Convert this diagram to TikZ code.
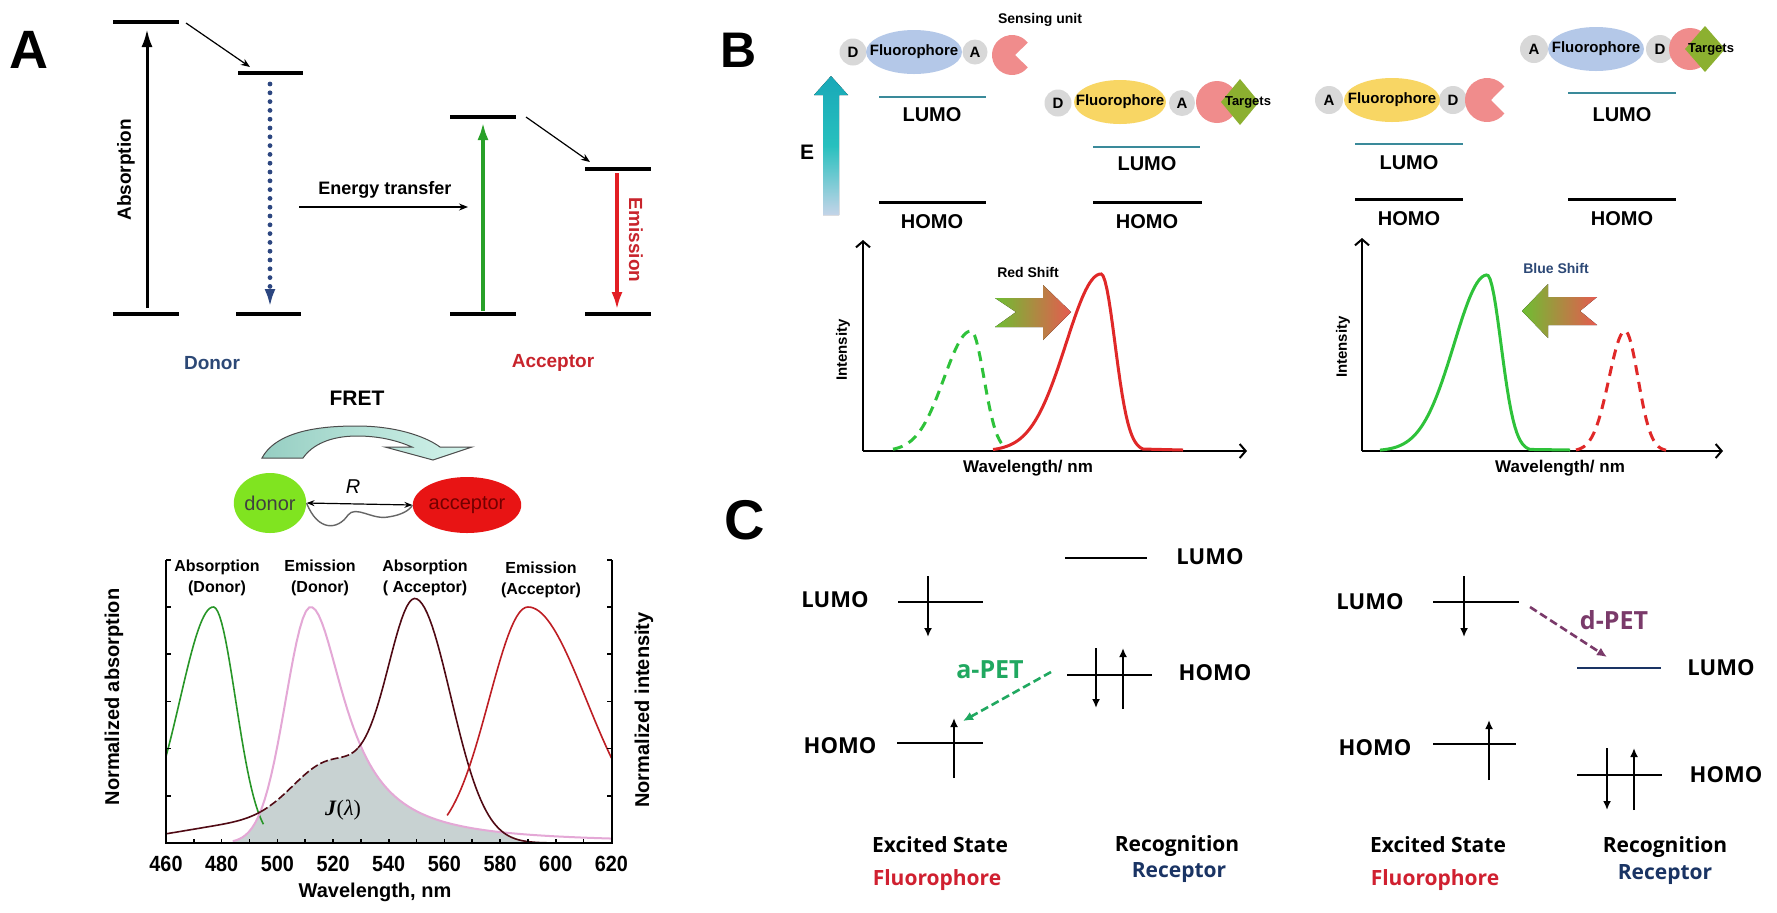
\documentclass[tikz,border=0pt]{standalone}
\usepackage{fontspec}
\setmainfont{Liberation Sans}
\newfontfamily\serifface{Liberation Serif}
\newfontfamily\pcface{Open Sans}
\usetikzlibrary{arrows.meta,positioning,shapes.geometric}
\newcommand\fsz[1]{\fontsize{#1}{#1}\selectfont}
\definecolor{donorblue}{RGB}{44,72,118}
\definecolor{accred}{RGB}{200,36,44}
\definecolor{navydot}{RGB}{44,70,128}
\definecolor{arrgreen}{RGB}{40,160,40}
\definecolor{arrred}{RGB}{226,30,36}
\definecolor{donorgreen}{RGB}{128,228,32}
\definecolor{acceptorred}{RGB}{232,20,20}
\definecolor{fretteal}{RGB}{150,206,194}
\definecolor{fretlight}{RGB}{212,244,236}
\definecolor{absgreen}{RGB}{40,150,40}
\definecolor{empink}{RGB}{228,168,214}
\definecolor{absmaroon}{RGB}{80,10,20}
\definecolor{emred}{RGB}{190,30,36}
\definecolor{jfill}{RGB}{200,210,210}
\definecolor{lumoteal}{RGB}{58,138,154}
\definecolor{dotgray}{RGB}{216,216,216}
\definecolor{fluoblue}{RGB}{180,200,232}
\definecolor{fluoyellow}{RGB}{248,214,100}
\definecolor{sensepink}{RGB}{240,140,140}
\definecolor{targetgreen}{RGB}{140,176,48}
\definecolor{curvegreen}{RGB}{46,194,58}
\definecolor{curvered}{RGB}{224,40,40}
\definecolor{etop}{RGB}{24,168,184}
\definecolor{emid}{RGB}{40,192,190}
\definecolor{ebot}{RGB}{196,212,232}
\definecolor{shiftgreen}{RGB}{110,190,50}
\definecolor{shiftred}{RGB}{230,90,80}
\definecolor{fluored}{RGB}{208,32,48}
\definecolor{recnavy}{RGB}{26,52,100}
\definecolor{apetgreen}{RGB}{32,168,96}
\definecolor{dpetpurple}{RGB}{122,58,106}

\begin{document}
\begin{tikzpicture}[x=0.5pt,y=-0.5pt,
    declare function={
      lamx(\l)=166+(\l-460)*2.784;
      ivy(\v)=843-236*\v;
      ag(\l,\m,\sl,\sr)=exp(-min(((\l-\m)/((\l<\m)*\sl+(\l>=\m)*\sr))^2/2,12));
      absD(\l)=ag(\l,477,12,8);
      emD(\l)=(\l<512)*ag(\l,512,9,9)+(\l>=512)/(1+((\l-512)/15)^2);
      absA(\l)=ag(\l,550,10.5,12.5)+0.3*ag(\l,520,14,14)+0.08*ag(\l,490,25,25);
      emA(\l)=ag(\l,590,14,21);
    },
    bf/.style={font={\fsz{#1}\bfseries}},
    pc/.style={font={\pcface\fsz{#1}\bfseries}},
    peak/.style={font={\fontsize{8}{10.5}\selectfont\bfseries},align=center},
    level/.style={line width=1.6pt},
    bigtip/.style={-{Latex[length=9pt,width=5.5pt]}},
    smalltip/.style={-{Stealth[length=4.5pt,width=3.5pt]}},
    axtip/.style={-{Straight Barb[length=3pt,width=7pt]}},
    spin/.style={line width=1.4pt,-{Latex[length=4.5pt,width=4pt]}},
    orb/.style={line width=1.4pt},
    molcirc/.style={fill=dotgray},
  ]
  \useasboundingbox (0,0) rectangle (1777,912);
  \fill[white] (0,0) rectangle (1777,912);

  % A: Jablonski levels
  \node[bf=27] (pA) at (29,50) {A};
  \draw[level] (113,22) -- (179,22);
  \draw[level] (238,73) -- (303,73);
  \draw[level] (113,314) -- (179,314);
  \draw[level] (236,314) -- (301,314);
  \draw[level] (450,117) -- (516,117);
  \draw[level] (585,169) -- (651,169);
  \draw[level] (450,314) -- (516,314);
  \draw[level] (585,314) -- (651,314);
  \coordinate (absB) at (147,308);
  \coordinate (absT) at (147,29);
  \draw[line width=1.5pt,bigtip] (absB) -- (absT);
  \node[bf=9.5,rotate=90] (absorb) at (126,170) {Absorption};
  \coordinate (relD1) at (186,23);
  \coordinate (relD2) at (250,67);
  \draw[line width=0.6pt,smalltip] (relD1) -- (relD2);
  \coordinate (dotT) at (270,84);
  \coordinate (dotB) at (270,307);
  \draw[navydot,line width=2.4pt,line cap=round,dash pattern=on 0pt off 4.4pt,bigtip] (dotT) -- (dotB);
  \node[bf=9] (etxt) at (385,190) {Energy transfer};
  \coordinate (etL) at (299,207);
  \coordinate (etR) at (468,207);
  \draw[line width=0.6pt,smalltip] (etL) -- (etR);
  \coordinate (gB) at (483,311);
  \coordinate (gT) at (483,122);
  \draw[arrgreen,line width=1.8pt,bigtip] (gB) -- (gT);
  \coordinate (relA1) at (526,117);
  \coordinate (relA2) at (590,162);
  \draw[line width=0.6pt,smalltip] (relA1) -- (relA2);
  \coordinate (rT) at (617,173);
  \coordinate (rB) at (617,310);
  \draw[arrred,line width=1.8pt,bigtip] (rT) -- (rB);
  \node[bf=9.5,rotate=-90,text=accred] (emtxt) at (636,240) {Emission};
  \node[bf=9.5,text=donorblue] (donlbl) at (212,363) {Donor};
  \node[bf=9.5,text=accred] (acclbl) at (553,363) {Acceptor};

  % A: FRET sketch
  \node[bf=10.5] (fret) at (357,398) {FRET};
  \draw[black!70,line width=0.5pt,left color=fretteal,right color=fretlight]
    (262,458) .. controls (278,428) and (330,426) .. (357,426)
    .. controls (395,426) and (425,436) .. (440,447) -- (472,447) -- (433,460) -- (385,447) -- (412,447)
    .. controls (396,440) and (378,436) .. (357,436)
    .. controls (330,436) and (312,445) .. (303,458) -- cycle;
  \node[ellipse,fill=donorgreen,minimum width=36pt,minimum height=30pt,inner sep=0pt,font=\fsz{10},text=black!75] (donor) at (270,503) {donor};
  \node[ellipse,fill=acceptorred,minimum width=53pt,minimum height=28pt,inner sep=0pt,font=\fsz{10},text=red!45!black] (acceptor) at (467,505) {acceptor};
  \draw[line width=0.6pt,{Stealth[length=4pt,width=3pt]}-{Stealth[length=4pt,width=3pt]}] (donor.east) -- (acceptor.west);
  \node[font=\fsz{10}\itshape] (rlbl) at (353,487) {R};
  \draw[black!60,line width=0.7pt] (donor.east) .. controls (318,532) and (338,530) .. (348,515)
    .. controls (356,505) and (372,520) .. (388,517) .. controls (402,515) and (410,510) .. (acceptor.west);

  % A: spectral overlap plot
  \fill[jfill,domain=484:606,samples=90] ({lamx(484)},843) -- plot ({lamx(\x)},{ivy(min(emD(\x),absA(\x)))}) -- ({lamx(606)},843) -- cycle;
  \draw[absgreen,line width=0.8pt,domain=460:495,samples=50] plot ({lamx(\x)},{ivy(absD(\x))});
  \draw[empink,line width=1pt,domain=484:620,samples=120] plot ({lamx(\x)},{ivy(emD(\x))});
  \draw[absmaroon,line width=0.8pt,domain=460:494,samples=40] plot ({lamx(\x)},{ivy(absA(\x))});
  \draw[absmaroon,line width=0.8pt,dash pattern=on 4pt off 1.5pt,domain=494:529,samples=40] plot ({lamx(\x)},{ivy(absA(\x))});
  \draw[absmaroon,line width=0.8pt,domain=529:620,samples=100] plot ({lamx(\x)},{ivy(absA(\x))});
  \draw[emred,line width=0.8pt,domain=561:620,samples=60] plot ({lamx(\x)},{ivy(emA(\x))});
  \draw[line width=1pt] (166,560) -- (166,843) -- (611.5,843) -- (611.5,560);
  \foreach \t in {460,470,...,620} \draw[line width=0.8pt] ({lamx(\t)},843) -- ({lamx(\t)},839);
  \foreach \v in {0,0.2,0.4,0.6,0.8,1.0,1.2} {
    \draw[line width=0.8pt] (166,{ivy(\v)}) -- (171,{ivy(\v)});
    \draw[line width=0.8pt] (611.5,{ivy(\v)}) -- (606.5,{ivy(\v)});
  }
  \foreach \t in {460,480,...,620} \node[bf=11,xscale=0.9] (tk\t) at ({lamx(\t)},864) {\t};
  \node[bf=10] (wlA) at (375,892) {Wavelength, nm};
  \node[bf=10,rotate=90] (nabs) at (114,697) {Normalized absorption};
  \node[bf=10,rotate=90] (nint) at (644,710) {Normalized intensity};
  \node[peak] (l1) at (217,578) {Absorption\\(Donor)};
  \node[peak] (l2) at (320,578) {Emission\\(Donor)};
  \node[peak] (l3) at (425,578) {Absorption\\( Acceptor)};
  \node[peak] (l4) at (541,580) {Emission\\(Acceptor)};
  \node[font=\serifface\fsz{11}] (jl) at (343,810) {\textbf{\textit{J}}(\textit{λ})};

  % B: ICT molecules and levels
  \node[bf=25] (pB) at (739,50) {B};
  \fill[top color=etop,bottom color=ebot,middle color=emid]
    (823,215) -- (823,95) -- (814,95) -- (831,76) -- (848,95) -- (839,95) -- (839,215) -- cycle;
  \node[bf=10.5] (elbl) at (807,152) {E};
  % donor-fluorophore-acceptor, free
  \fill[molcirc] (853,52) circle (13.5);
  \fill[molcirc] (975,52) circle (12.5);
  \fill[fluoblue] (914,52) ellipse [x radius=48, y radius=22];
  \fill[sensepink] (1012,55) ++(38:20) arc (38:322:20) -- (1015,55) -- cycle;
  \node[bf=7.5] (m1d) at (853,52) {D};
  \node[bf=7.5] (m1f) at (914,52) {Fluorophore};
  \node[bf=7.5] (m1a) at (975,52) {A};
  \node[bf=7] (sense) at (1040,20) {Sensing unit};
  % bound to target
  \fill[molcirc] (1058,103) circle (13.5);
  \fill[molcirc] (1182,103) circle (13);
  \fill[fluoyellow] (1120,102) ellipse [x radius=46, y radius=22];
  \fill[sensepink] (1217,102) circle (21);
  \fill[targetgreen] (1240,79) -- (1259,102) -- (1240,125) -- (1221,102) -- cycle;
  \node[bf=7.5] (m2d) at (1058,103) {D};
  \node[bf=7.5] (m2f) at (1120,102) {Fluorophore};
  \node[bf=7.5] (m2a) at (1182,103) {A};
  \node[bf=6.5] (m2t) at (1248,102) {Targets};
  % reversed, free
  \fill[molcirc] (1329,100) circle (14);
  \fill[molcirc] (1453,100) circle (14);
  \fill[fluoyellow] (1392,100) ellipse [x radius=48, y radius=22];
  \fill[sensepink] (1487,100) ++(38:22) arc (38:322:22) -- (1491,100) -- cycle;
  \node[bf=7.5] (m3a) at (1329,100) {A};
  \node[bf=7.5] (m3f) at (1392,100) {Fluorophore};
  \node[bf=7.5] (m3d) at (1453,100) {D};
  % reversed, bound
  \fill[molcirc] (1534,49) circle (14);
  \fill[molcirc] (1660,49) circle (14);
  \fill[fluoblue] (1596,49) ellipse [x radius=48, y radius=22];
  \fill[sensepink] (1690,49) circle (21);
  \fill[targetgreen] (1705,26) -- (1725,49) -- (1705,72) -- (1685,49) -- cycle;
  \node[bf=7.5] (m4a) at (1534,49) {A};
  \node[bf=7.5] (m4f) at (1596,49) {Fluorophore};
  \node[bf=7.5] (m4d) at (1660,49) {D};
  \node[bf=6.5] (m4t) at (1711,49) {Targets};
  % frontier orbitals
  \draw[lumoteal,line width=1.3pt] (879,97) -- (986,97);
  \draw[lumoteal,line width=1.3pt] (1093,147) -- (1200,147);
  \draw[lumoteal,line width=1.3pt] (1355,144) -- (1463,144);
  \draw[lumoteal,line width=1.3pt] (1568,93) -- (1676,93);
  \draw[line width=1.5pt] (879,202) -- (986,202);
  \draw[line width=1.5pt] (1093,202) -- (1202,202);
  \draw[line width=1.5pt] (1355,199) -- (1463,199);
  \draw[line width=1.5pt] (1568,199) -- (1676,199);
  \node[bf=10] (lu1) at (932,115) {LUMO};
  \node[bf=10] (ho1) at (932,222) {HOMO};
  \node[bf=10] (lu2) at (1147,164) {LUMO};
  \node[bf=10] (ho2) at (1147,222) {HOMO};
  \node[bf=10] (lu3) at (1409,163) {LUMO};
  \node[bf=10] (ho3) at (1409,219) {HOMO};
  \node[bf=10] (lu4) at (1622,115) {LUMO};
  \node[bf=10] (ho4) at (1622,219) {HOMO};

  % B: spectra
  \coordinate (o1) at (863,451);
  \draw[line width=1pt,axtip] (o1) -- (863,240);
  \draw[line width=1pt,axtip] (o1) -- (1247,451);
  \node[bf=7.5,rotate=90] (int1) at (843,350) {Intensity};
  \node[bf=8.5] (wl1) at (1028,468) {Wavelength/ nm};
  \draw[curvegreen,line width=1.5pt,dash pattern=on 5pt off 3.5pt,domain=893:1005,samples=60] plot (\x,{451-120*ag(\x,971,27,13)});
  \draw[curvered,line width=1.5pt,domain=993:1143,samples=80] plot (\x,{451-177*ag(\x,1101,35,14)}) -- (1183,450);
  \fill[left color=shiftgreen,right color=shiftred]
    (995,298) -- (1043,298) -- (1043,285) -- (1071,312) -- (1043,340) -- (1043,327) -- (995,327) -- (1016,312) -- cycle;
  \node[bf=7] (rshift) at (1028,272) {Red Shift};
  \coordinate (o2) at (1362,451);
  \draw[line width=1pt,axtip] (o2) -- (1362,238);
  \draw[line width=1pt,axtip] (o2) -- (1723,451);
  \node[bf=7.5,rotate=90] (int2) at (1343,347) {Intensity};
  \node[bf=8.5] (wl2) at (1560,468) {Wavelength/ nm};
  \draw[curvegreen,line width=1.5pt,domain=1380:1530,samples=80] plot (\x,{451-176*ag(\x,1487,33,14)}) -- (1570,450);
  \draw[curvered,line width=1.5pt,dash pattern=on 5pt off 3.5pt,domain=1576:1666,samples=60] plot (\x,{451-120*ag(\x,1625,16,13)});
  \fill[left color=shiftgreen,right color=shiftred]
    (1597,297) -- (1548,297) -- (1548,284) -- (1522,311) -- (1548,338) -- (1548,325) -- (1597,325) -- (1580,311) -- cycle;
  \node[bf=7,text=donorblue] (bshift) at (1556,268) {Blue Shift};

  % C: PET
  \node[bf=28] (pC) at (745,520) {C};
  \node[pc=11] (cl1) at (835,600) {LUMO};
  \node[pc=11] (ch1) at (840,746) {HOMO};
  \draw[orb] (898,602) -- (983,602);
  \draw[spin] (928,576) -- (928,637);
  \draw[orb] (897,743) -- (983,743);
  \draw[spin] (954,778) -- (954,718);
  \draw[orb] (1065,558) -- (1147,558);
  \node[pc=11] (rl1) at (1210,557) {LUMO};
  \draw[orb] (1067,675) -- (1152,675);
  \draw[spin] (1096,648) -- (1096,708);
  \draw[spin] (1123,709) -- (1123,648);
  \node[pc=11] (rh1) at (1215,673) {HOMO};
  \coordinate (ap1) at (1051,672);
  \coordinate (ap2) at (963,721);
  \draw[apetgreen,line width=1.3pt,dash pattern=on 4pt off 2pt,-{Latex[length=5pt,width=4.5pt]}] (ap1) -- (ap2);
  \node[pc=12.5,text=apetgreen] (apet) at (990,670) {a-PET};
  \node[pc=10.5] (ex1) at (940,845) {Excited State};
  \node[pc=10.5,text=fluored] (fl1) at (937,880) {Fluorophore};
  \node[pc=10.5] (rc1) at (1177,846) {Recognition};
  \node[pc=10.5,text=recnavy] (re1) at (1179,873) {Receptor};

  \node[pc=11] (cl2) at (1370,602) {LUMO};
  \node[pc=11] (ch2) at (1375,748) {HOMO};
  \draw[orb] (1433,602) -- (1519,602);
  \draw[spin] (1464,576) -- (1464,637);
  \draw[orb] (1433,744) -- (1516,744);
  \draw[spin] (1489,780) -- (1489,720);
  \draw[recnavy,line width=1.2pt] (1577,668) -- (1661,668);
  \node[pc=11] (rl2) at (1721,668) {LUMO};
  \draw[orb] (1577,775) -- (1662,775);
  \draw[spin] (1607,748) -- (1607,810);
  \draw[spin] (1634,810) -- (1634,748);
  \node[pc=11] (rh2) at (1726,775) {HOMO};
  \coordinate (dp1) at (1530,607);
  \coordinate (dp2) at (1607,657);
  \draw[dpetpurple,line width=1.3pt,dash pattern=on 4pt off 2pt,-{Latex[length=5pt,width=4.5pt]}] (dp1) -- (dp2);
  \node[pc=12.5,text=dpetpurple] (dpet) at (1614,620) {d-PET};
  \node[pc=10.5] (ex2) at (1438,845) {Excited State};
  \node[pc=10.5,text=fluored] (fl2) at (1435,880) {Fluorophore};
  \node[pc=10.5] (rc2) at (1665,847) {Recognition};
  \node[pc=10.5,text=recnavy] (re2) at (1665,875) {Receptor};
\end{tikzpicture}
\end{document}
